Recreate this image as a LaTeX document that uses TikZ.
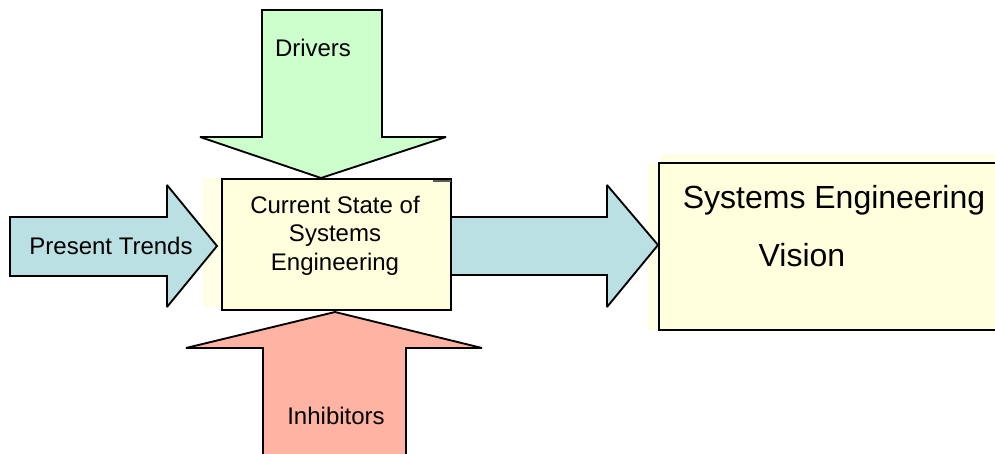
\documentclass[tikz,border=0pt]{standalone}
\usepackage{fontspec}
\setmainfont{Liberation Sans}
\definecolor{drvgreen}{HTML}{CCFFCC}
\definecolor{trendblue}{HTML}{BBE0E3}
\definecolor{inhred}{HTML}{FFB3A3}
\definecolor{boxyellow}{HTML}{FFFFDD}
\definecolor{faintyellow}{HTML}{FFFFE6}
\tikzset{
  blockarrow/.style={draw=black, line width=1.4pt, line join=miter, miter limit=2.5},
  boxshape/.style={draw=black, line width=1.6pt, fill=boxyellow},
  lbl/.style={font=\fontsize{18pt}{21.4pt}\selectfont, inner sep=0pt, align=center},
  biglbl/.style={font=\fontsize{24pt}{28pt}\selectfont, inner sep=0pt}
}
\begin{document}
\begin{tikzpicture}[x=0.75pt,y=-0.75pt]
\useasboundingbox (0,0) rectangle (995,453);
\clip (0,0) rectangle (995,453);
% faint backgrounds
\fill[faintyellow] (203,178) rectangle (240,307);
\fill[faintyellow] (648,163) rectangle (670,330);
\fill[faintyellow] (660,154) rectangle (995,170);
% arrows
\draw[blockarrow, fill=drvgreen] (262,10) -- (382,10) -- (382,137) -- (446,137) -- (321,178) -- (200,137) -- (262,137) -- cycle;
\draw[blockarrow, fill=inhred] (263,460) -- (263,348) -- (186,348) -- (335,312) -- (482,348) -- (406,348) -- (406,460);
\draw[blockarrow, fill=trendblue] (10,217) -- (167,217) -- (167,185) -- (217,246) -- (167,307) -- (167,276) -- (10,276) -- cycle;
\draw[blockarrow, fill=trendblue] (450,217) -- (607,217) -- (607,185) -- (658,245) -- (607,307) -- (607,275) -- (450,275);
% boxes
\node[boxshape, minimum width=229*0.75pt, minimum height=131*0.75pt, anchor=north west, inner sep=0pt] (cur) at (221,178) {};
\draw[gray!70!black, line width=1.5pt] ([xshift=-14pt,yshift=-2pt]cur.north east) -- ([xshift=-1pt,yshift=-2pt]cur.north east);
\node[boxshape, minimum width=360*0.75pt, minimum height=167*0.75pt, anchor=north west, inner sep=0pt] (vis) at (658,162) {};
% labels
\node[lbl] (curtext) at (335,235.5) {Current State of\\Systems\\Engineering};
\node[lbl] (drv) at (313,48) {Drivers};
\node[lbl] (inh) at (336,416) {Inhibitors};
\node[lbl] (trd) at (111,246) {Present Trends};
\node[biglbl] (vis1) at (834,200) {Systems Engineering};
\node[biglbl] (vis2) at (802,255) {Vision};
\end{tikzpicture}
\end{document}
